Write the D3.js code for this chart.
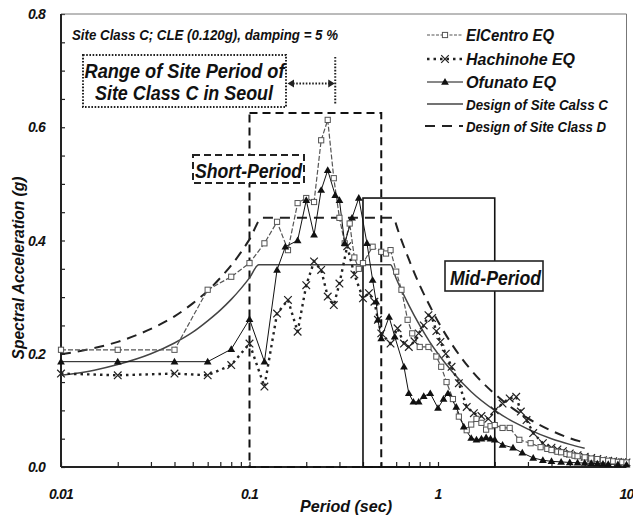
<!DOCTYPE html>
<html><head><meta charset="utf-8">
<script src="https://cdn.jsdelivr.net/npm/d3@7"></script>
<style>
html,body{margin:0;padding:0;background:#fff;}
svg{display:block;}
text{font-family:"Liberation Sans",Arial,sans-serif;font-weight:bold;font-style:italic;fill:#111;}
</style></head><body>
<svg id="chart" width="633" height="522"></svg>
<script>
// Response spectra, site class C, CLE (0.120g), 5 % damping
const elCentroT = [0.01,0.02,0.04,0.06,0.08,0.1,0.12,0.14,0.16,0.18,0.2,0.22,0.24,0.26,0.28,0.3,0.32,0.34,0.36,0.38,0.4,0.45,0.5,0.53,0.56,0.6,0.64,0.69,0.73,0.8,0.89,0.98,1.04,1.11,1.2,1.29,1.42,1.5,1.6,1.7,1.8,1.9,2.0,2.2,2.4,2.7,3.1,3.5,3.8,4.0,4.3,4.5,4.8,5.0,5.3,5.5,6.0,6.5,7.0,7.5,8.0,8.5,9.0,9.5,10.0];
const elCentroSa = [0.207,0.207,0.207,0.313,0.336,0.36,0.395,0.433,0.383,0.466,0.475,0.468,0.577,0.613,0.51,0.44,0.395,0.43,0.37,0.35,0.36,0.389,0.38,0.377,0.383,0.345,0.313,0.26,0.236,0.212,0.212,0.195,0.177,0.15,0.12,0.089,0.065,0.075,0.085,0.078,0.066,0.072,0.074,0.069,0.069,0.048,0.042,0.035,0.032,0.03,0.027,0.026,0.023,0.022,0.02,0.019,0.017,0.015,0.014,0.012,0.011,0.01,0.009,0.0085,0.008];

const hachinoheT = [0.01,0.02,0.04,0.06,0.08,0.1,0.12,0.14,0.16,0.18,0.2,0.22,0.24,0.26,0.28,0.3,0.33,0.36,0.4,0.43,0.46,0.48,0.5,0.56,0.61,0.66,0.7,0.75,0.79,0.84,0.89,0.93,0.98,1.03,1.1,1.18,1.29,1.42,1.55,1.7,1.85,2.0,2.2,2.4,2.6,2.75,2.95,3.2,3.6,4.0,4.3,4.6,5.0,5.5,6.0,6.5,7.0,7.5,8.0,8.5,9.0,9.5,10.0];
const hachinoheSa = [0.165,0.162,0.165,0.162,0.18,0.218,0.142,0.271,0.295,0.239,0.321,0.363,0.348,0.301,0.286,0.324,0.39,0.34,0.298,0.307,0.292,0.26,0.236,0.218,0.245,0.218,0.212,0.222,0.236,0.25,0.268,0.263,0.24,0.221,0.2,0.177,0.148,0.106,0.095,0.09,0.085,0.1,0.112,0.121,0.124,0.098,0.083,0.06,0.042,0.034,0.031,0.028,0.024,0.021,0.018,0.016,0.014,0.012,0.011,0.01,0.009,0.0085,0.008];

const ofunatoT = [0.01,0.02,0.04,0.06,0.08,0.1,0.12,0.14,0.155,0.18,0.2,0.22,0.24,0.26,0.285,0.3,0.32,0.35,0.38,0.42,0.45,0.47,0.48,0.5,0.55,0.59,0.66,0.7,0.74,0.79,0.84,0.91,1.0,1.07,1.13,1.25,1.37,1.5,1.6,1.7,1.8,1.9,2.0,2.2,2.5,2.8,3.2,3.6,4.0,4.5,5.0,5.5,6.0,6.5,7.0,7.5,8.0,9.0,10.0];
const ofunatoSa = [0.186,0.186,0.186,0.186,0.208,0.261,0.186,0.348,0.389,0.4,0.471,0.41,0.489,0.524,0.48,0.471,0.395,0.44,0.475,0.395,0.33,0.292,0.26,0.227,0.265,0.23,0.177,0.13,0.115,0.115,0.125,0.13,0.104,0.12,0.13,0.106,0.071,0.051,0.048,0.05,0.052,0.05,0.048,0.039,0.034,0.025,0.016,0.012,0.01,0.009,0.008,0.0075,0.007,0.0065,0.006,0.0055,0.005,0.0045,0.004];

const designCT = [0.01,0.015,0.02,0.03,0.04,0.05,0.06,0.07,0.08,0.09,0.1,0.112,0.56,0.6,0.7,0.8,0.9,1.0,1.2,1.5,2.0,2.5,3.0,4.0,5.0,6.0];
const designCSa = [0.162,0.171,0.181,0.200,0.219,0.238,0.258,0.277,0.296,0.315,0.334,0.357,0.357,0.333,0.286,0.250,0.222,0.200,0.167,0.133,0.100,0.080,0.067,0.050,0.040,0.033];

const designDT = [0.01,0.015,0.02,0.03,0.04,0.05,0.06,0.07,0.08,0.09,0.1,0.117,0.585,0.6,0.7,0.8,0.9,1.0,1.2,1.5,2.0,2.5,3.0,4.0,5.0,6.0];
const designDSa = [0.199,0.210,0.221,0.244,0.266,0.289,0.311,0.334,0.356,0.379,0.402,0.44,0.44,0.428,0.367,0.321,0.286,0.257,0.214,0.171,0.129,0.103,0.086,0.064,0.051,0.043];

const xTickLabels = ["0.01","0.1","1","10"];
const xMajor = [0.01,0.1,1,10];
const yTickLabels = ["0.0","0.2","0.4","0.6","0.8"];
const yMajor = [0,0.2,0.4,0.6,0.8];

const legendLabels = ["ElCentro EQ","Hachinohe EQ","Ofunato EQ","Design of Site Calss C","Design of Site Class D"];
const titleText = "Site Class C; CLE (0.120g), damping = 5 %";

// period windows (sec) and their upper bounds (g)
const shortPeriod = [0.1, 0.5, 0.625];
const midPeriod = [0.4, 2.0, 0.475];
const seoulRangeEnd = 0.285;

const svg = d3.select("#chart");
const x = d3.scaleLog().domain([0.01, 10]).range([61, 626.5]);
const y = d3.scaleLinear().domain([0, 0.8]).range([467, 14]);

// minor ticks on the log axis
const xMinor = [];
[0.01, 0.1, 1].forEach(d => { for (let k = 1; k <= 9; k++) xMinor.push(+(d * k).toPrecision(3)); });
xMinor.push(10);
const yMinor = d3.range(0, 0.8001, 0.05).map(v => +v.toFixed(2));

// axes
const gx = svg.append("g").attr("transform", "translate(0,467)")
  .call(d3.axisBottom(x).tickValues(xMinor).tickSize(-5).tickFormat(() => ""));
gx.select(".domain").remove();
gx.selectAll(".tick line").attr("stroke", "#222").attr("stroke-width", 1.2);

const gy = svg.append("g").attr("transform", "translate(61,0)")
  .call(d3.axisLeft(y).tickValues(yMinor).tickSize(-4).tickFormat(() => ""));
gy.select(".domain").remove();
gy.selectAll(".tick line").attr("stroke", "#222").attr("stroke-width", 1.2);

svg.append("g").selectAll("text").data(xMajor).join("text")
  .attr("x", d => x(d)).attr("y", 499).attr("text-anchor", "middle")
  .attr("font-size", 14).attr("letter-spacing", -0.8)
  .text((d, i) => xTickLabels[i]);
svg.append("g").selectAll("text").data(yMajor).join("text")
  .attr("x", 45).attr("y", d => y(d) + 5).attr("text-anchor", "end")
  .attr("font-size", 14).attr("letter-spacing", -0.8)
  .text((d, i) => yTickLabels[i]);

// frame
svg.append("line").attr("x1", 61).attr("x2", 626.5).attr("y1", 14).attr("y2", 14).attr("stroke", "#777").attr("stroke-width", 1);
svg.append("line").attr("x1", 626.5).attr("x2", 626.5).attr("y1", 14).attr("y2", 467).attr("stroke", "#777").attr("stroke-width", 1);
svg.append("line").attr("x1", 61).attr("x2", 61).attr("y1", 14).attr("y2", 467).attr("stroke", "#222").attr("stroke-width", 2);
svg.append("line").attr("x1", 61).attr("x2", 626.5).attr("y1", 467).attr("y2", 467).attr("stroke", "#222").attr("stroke-width", 2);

// axis titles
svg.append("text").attr("transform", "translate(24,268) rotate(-90)").attr("text-anchor", "middle")
  .attr("font-size", 17).attr("textLength", 183).attr("lengthAdjust", "spacingAndGlyphs")
  .text("Spectral Acceleration (g)");
svg.append("text").attr("x", 346).attr("y", 512).attr("text-anchor", "middle")
  .attr("font-size", 17).attr("textLength", 92).attr("lengthAdjust", "spacingAndGlyphs")
  .text("Period (sec)");

// period windows
svg.append("rect")
  .attr("x", x(shortPeriod[0])).attr("y", y(shortPeriod[2]))
  .attr("width", x(shortPeriod[1]) - x(shortPeriod[0])).attr("height", y(0) - y(shortPeriod[2]))
  .attr("fill", "none").attr("stroke", "#111").attr("stroke-width", 2).attr("stroke-dasharray", "8,5");
svg.append("rect")
  .attr("x", x(midPeriod[0])).attr("y", y(midPeriod[2]))
  .attr("width", x(midPeriod[1]) - x(midPeriod[0])).attr("height", y(0) - y(midPeriod[2]))
  .attr("fill", "none").attr("stroke", "#111").attr("stroke-width", 1.6);

// spectra
const pts = (T, S) => T.map((t, i) => [t, S[i]]);
const smooth = d3.line().x(d => x(d[0])).y(d => y(d[1])).curve(d3.curveMonotoneX);
const straight = d3.line().x(d => x(d[0])).y(d => y(d[1]));

const dC = pts(designCT, designCSa), dD = pts(designDT, designDSa);
const eC = pts(elCentroT, elCentroSa), hA = pts(hachinoheT, hachinoheSa), oF = pts(ofunatoT, ofunatoSa);

svg.append("path").attr("d", smooth(dC)).attr("fill", "none").attr("stroke", "#444").attr("stroke-width", 1.5);
svg.append("path").attr("d", smooth(dD)).attr("fill", "none").attr("stroke", "#222").attr("stroke-width", 2).attr("stroke-dasharray", "10,7");

svg.append("path").attr("d", straight(hA)).attr("fill", "none").attr("stroke", "#222").attr("stroke-width", 2.4).attr("stroke-dasharray", "2.5,4");
svg.append("path").attr("d", straight(eC)).attr("fill", "none").attr("stroke", "#555").attr("stroke-width", 1.2).attr("stroke-dasharray", "5,2");
svg.append("path").attr("d", straight(oF)).attr("fill", "none").attr("stroke", "#111").attr("stroke-width", 1);

// markers
const xMark = (cx, cy, r) => `M${cx - r},${cy - r}L${cx + r},${cy + r}M${cx - r},${cy + r}L${cx + r},${cy - r}`;
const tri = d3.symbol().type(d3.symbolTriangle).size(26);

svg.append("g").selectAll("path").data(hA).join("path")
  .attr("d", d => xMark(x(d[0]), y(d[1]), 3.8)).attr("stroke", "#222").attr("stroke-width", 1.2).attr("fill", "none");
svg.append("g").selectAll("rect").data(eC).join("rect")
  .attr("x", d => x(d[0]) - 2.6).attr("y", d => y(d[1]) - 2.6).attr("width", 5.2).attr("height", 5.2)
  .attr("fill", "#fff").attr("stroke", "#555").attr("stroke-width", 1);
svg.append("g").selectAll("path").data(oF).join("path")
  .attr("transform", d => `translate(${x(d[0])},${y(d[1]) + 0.5})`).attr("d", tri).attr("fill", "#111");

// annotations
svg.append("rect").attr("x", 83).attr("y", 55).attr("width", 203).attr("height", 52)
  .attr("fill", "#fff").attr("stroke", "#222").attr("stroke-width", 2).attr("stroke-dasharray", "1.6,1.6");
svg.append("text").attr("x", 184.5).attr("y", 78).attr("text-anchor", "middle").attr("font-size", 20)
  .attr("textLength", 200).attr("lengthAdjust", "spacingAndGlyphs").text("Range of Site Period of");
svg.append("text").attr("x", 184).attr("y", 100).attr("text-anchor", "middle").attr("font-size", 20)
  .attr("textLength", 178).attr("lengthAdjust", "spacingAndGlyphs").text("Site Class C in Seoul");

const xr = x(seoulRangeEnd);
svg.append("line").attr("x1", xr).attr("x2", xr).attr("y1", 57).attr("y2", 105)
  .attr("stroke", "#222").attr("stroke-width", 2).attr("stroke-dasharray", "1.6,1.6");
svg.append("line").attr("x1", 293).attr("x2", xr - 5).attr("y1", 83.5).attr("y2", 83.5)
  .attr("stroke", "#222").attr("stroke-width", 2).attr("stroke-dasharray", "1.6,1.6");
svg.append("path").attr("d", `M287.5,83.5L294,79.5L294,87.5Z`).attr("fill", "#222");
svg.append("path").attr("d", `M${xr - 0.5},83.5L${xr - 7},79.5L${xr - 7},87.5Z`).attr("fill", "#222");

svg.append("rect").attr("x", 193).attr("y", 155).attr("width", 111).attr("height", 28)
  .attr("fill", "#fff").attr("stroke", "#222").attr("stroke-width", 2).attr("stroke-dasharray", "7,4");
svg.append("text").attr("x", 195).attr("y", 178).attr("font-size", 20)
  .attr("textLength", 107).attr("lengthAdjust", "spacingAndGlyphs").text("Short-Period");

svg.append("rect").attr("x", 445).attr("y", 261).attr("width", 98).attr("height", 30)
  .attr("fill", "#fff").attr("stroke", "#222").attr("stroke-width", 1.6);
svg.append("text").attr("x", 450).attr("y", 285).attr("font-size", 20)
  .attr("textLength", 91).attr("lengthAdjust", "spacingAndGlyphs").text("Mid-Period");

svg.append("text").attr("x", 72).attr("y", 40).attr("font-size", 14)
  .attr("textLength", 266).attr("lengthAdjust", "spacingAndGlyphs").text(titleText);

// legend
const legY = [35, 59, 82, 104, 126];
const legW = [88, 109, 90, 142, 140];
const lg = svg.append("g");
legendLabels.forEach((lab, i) => {
  const cy = legY[i];
  const ln = lg.append("line").attr("x1", 427).attr("x2", 463).attr("y1", cy).attr("y2", cy).attr("fill", "none");
  if (i === 0) ln.attr("stroke", "#555").attr("stroke-width", 1.2).attr("stroke-dasharray", "3,1.5");
  if (i === 1) ln.attr("stroke", "#222").attr("stroke-width", 2.4).attr("stroke-dasharray", "2.5,4");
  if (i === 2) ln.attr("stroke", "#111").attr("stroke-width", 1);
  if (i === 3) ln.attr("stroke", "#444").attr("stroke-width", 1.5);
  if (i === 4) ln.attr("stroke", "#222").attr("stroke-width", 2).attr("stroke-dasharray", "10,7").attr("x1", 425);
  if (i === 0) lg.append("rect").attr("x", 442.4).attr("y", cy - 2.6).attr("width", 5.2).attr("height", 5.2)
    .attr("fill", "#fff").attr("stroke", "#555");
  if (i === 1) lg.append("path").attr("d", xMark(445, cy, 3.8)).attr("stroke", "#222").attr("stroke-width", 1.2);
  if (i === 2) lg.append("path").attr("transform", `translate(445,${cy + 0.5})`).attr("d", tri).attr("fill", "#111");
  lg.append("text").attr("x", 466).attr("y", cy + 5.5).attr("font-size", i >= 3 ? 14 : 16)
    .attr("textLength", legW[i]).attr("lengthAdjust", "spacingAndGlyphs").text(lab);
});
</script></body></html>
